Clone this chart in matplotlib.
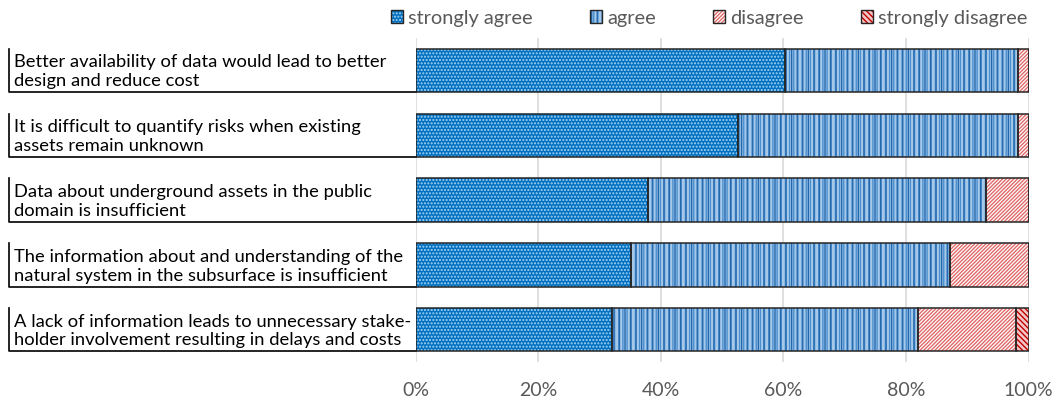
import numpy as np
import matplotlib.pyplot as plt
from matplotlib.patches import Patch
from matplotlib.legend_handler import HandlerTuple

plt.rcParams['font.family'] = ['Lato', 'DejaVu Sans']
plt.rcParams['hatch.linewidth'] = 1.0

statements = [
    "Better availability of data would lead to better\ndesign and reduce cost",
    "It is difficult to quantify risks when existing\nassets remain unknown",
    "Data about underground assets in the public\ndomain is insufficient",
    "The information about and understanding of the\nnatural system in the subsurface is insufficient",
    "A lack of information leads to unnecessary stake-\nholder involvement resulting in delays and costs",
]
strongly_agree = [60.3, 52.6, 37.9, 35.2, 32.0]
agree = [37.9, 45.6, 55.2, 51.9, 50.0]
disagree = [1.8, 1.8, 6.9, 12.9, 16.0]
strongly_disagree = [0.0, 0.0, 0.0, 0.0, 2.0]

series = ["strongly agree", "agree", "disagree", "strongly disagree"]
# each series is a stack of (face, hatch colour, hatch) layers
layers = [
    [("#0070C0", "#A8D4F5", ".....")],
    [("#A6C9EA", "#4A8FD0", "||||"), ("none", "#2367AD", "|||")],
    [("white", "#E06A6A", "/////////")],
    [("#F4C7C7", "#C00000", "\\\\\\\\\\\\")],
]
outline = "#262626"
grey = "#595959"

fig = plt.figure(figsize=(10.55, 4.05), dpi=100)
ax = fig.add_axes([0.394, 0.106, 0.581, 0.800])

y = np.arange(len(statements))
left = np.zeros(len(statements))
handles = []
for vals, lay in zip([strongly_agree, agree, disagree, strongly_disagree], layers):
    vals = np.array(vals)
    parts = []
    for fc, hc, h in lay:
        ax.barh(y, vals, left=left, height=0.67, color=fc, edgecolor=hc,
                hatch=h, linewidth=0, zorder=2)
        parts.append(Patch(facecolor=fc, edgecolor=hc, hatch=h, linewidth=0))
    ax.barh(y, vals, left=left, height=0.67, fill=False,
            edgecolor=outline, linewidth=1.1, zorder=3)
    parts.append(Patch(fill=False, edgecolor=outline, linewidth=1.0))
    handles.append(tuple(parts))
    left += vals

ax.set_xlim(0, 100)
ax.set_ylim(4.5, -0.5)
ax.set_xticks(np.arange(0, 101, 20))
ax.set_xticklabels([f"{v}%" for v in range(0, 101, 20)])
ax.set_yticks([])
ax.tick_params(axis='x', length=0, pad=14, labelsize=14, labelcolor=grey)
ax.grid(axis='x', color="#D9D9D9", linewidth=1.2, zorder=0)
ax.set_axisbelow(True)
for s in ax.spines.values():
    s.set_visible(False)

# statement labels with an L-shaped bracket under each one
trans = ax.get_yaxis_transform()
x0 = -0.664
for yi, text in zip(y, statements):
    ax.plot([x0, x0, 0.0], [yi - 0.335, yi + 0.335, yi + 0.335],
            transform=trans, color="black", linewidth=1.2, clip_on=False)
    ax.text(x0 + 0.008, yi + 0.02, text, transform=trans, ha='left',
            va='center', fontsize=13.2, linespacing=1.22, color="black")

leg = fig.legend(handles, series, loc='center', ncol=4,
                 handler_map={tuple: HandlerTuple(ndivide=1, pad=0)},
                 bbox_to_anchor=(0.672, 0.955), frameon=False, fontsize=14.4,
                 handlelength=0.62, handleheight=0.62, handletextpad=0.25,
                 columnspacing=2.85, borderpad=0, labelcolor=grey)

fig.savefig("out.png", dpi=100)
